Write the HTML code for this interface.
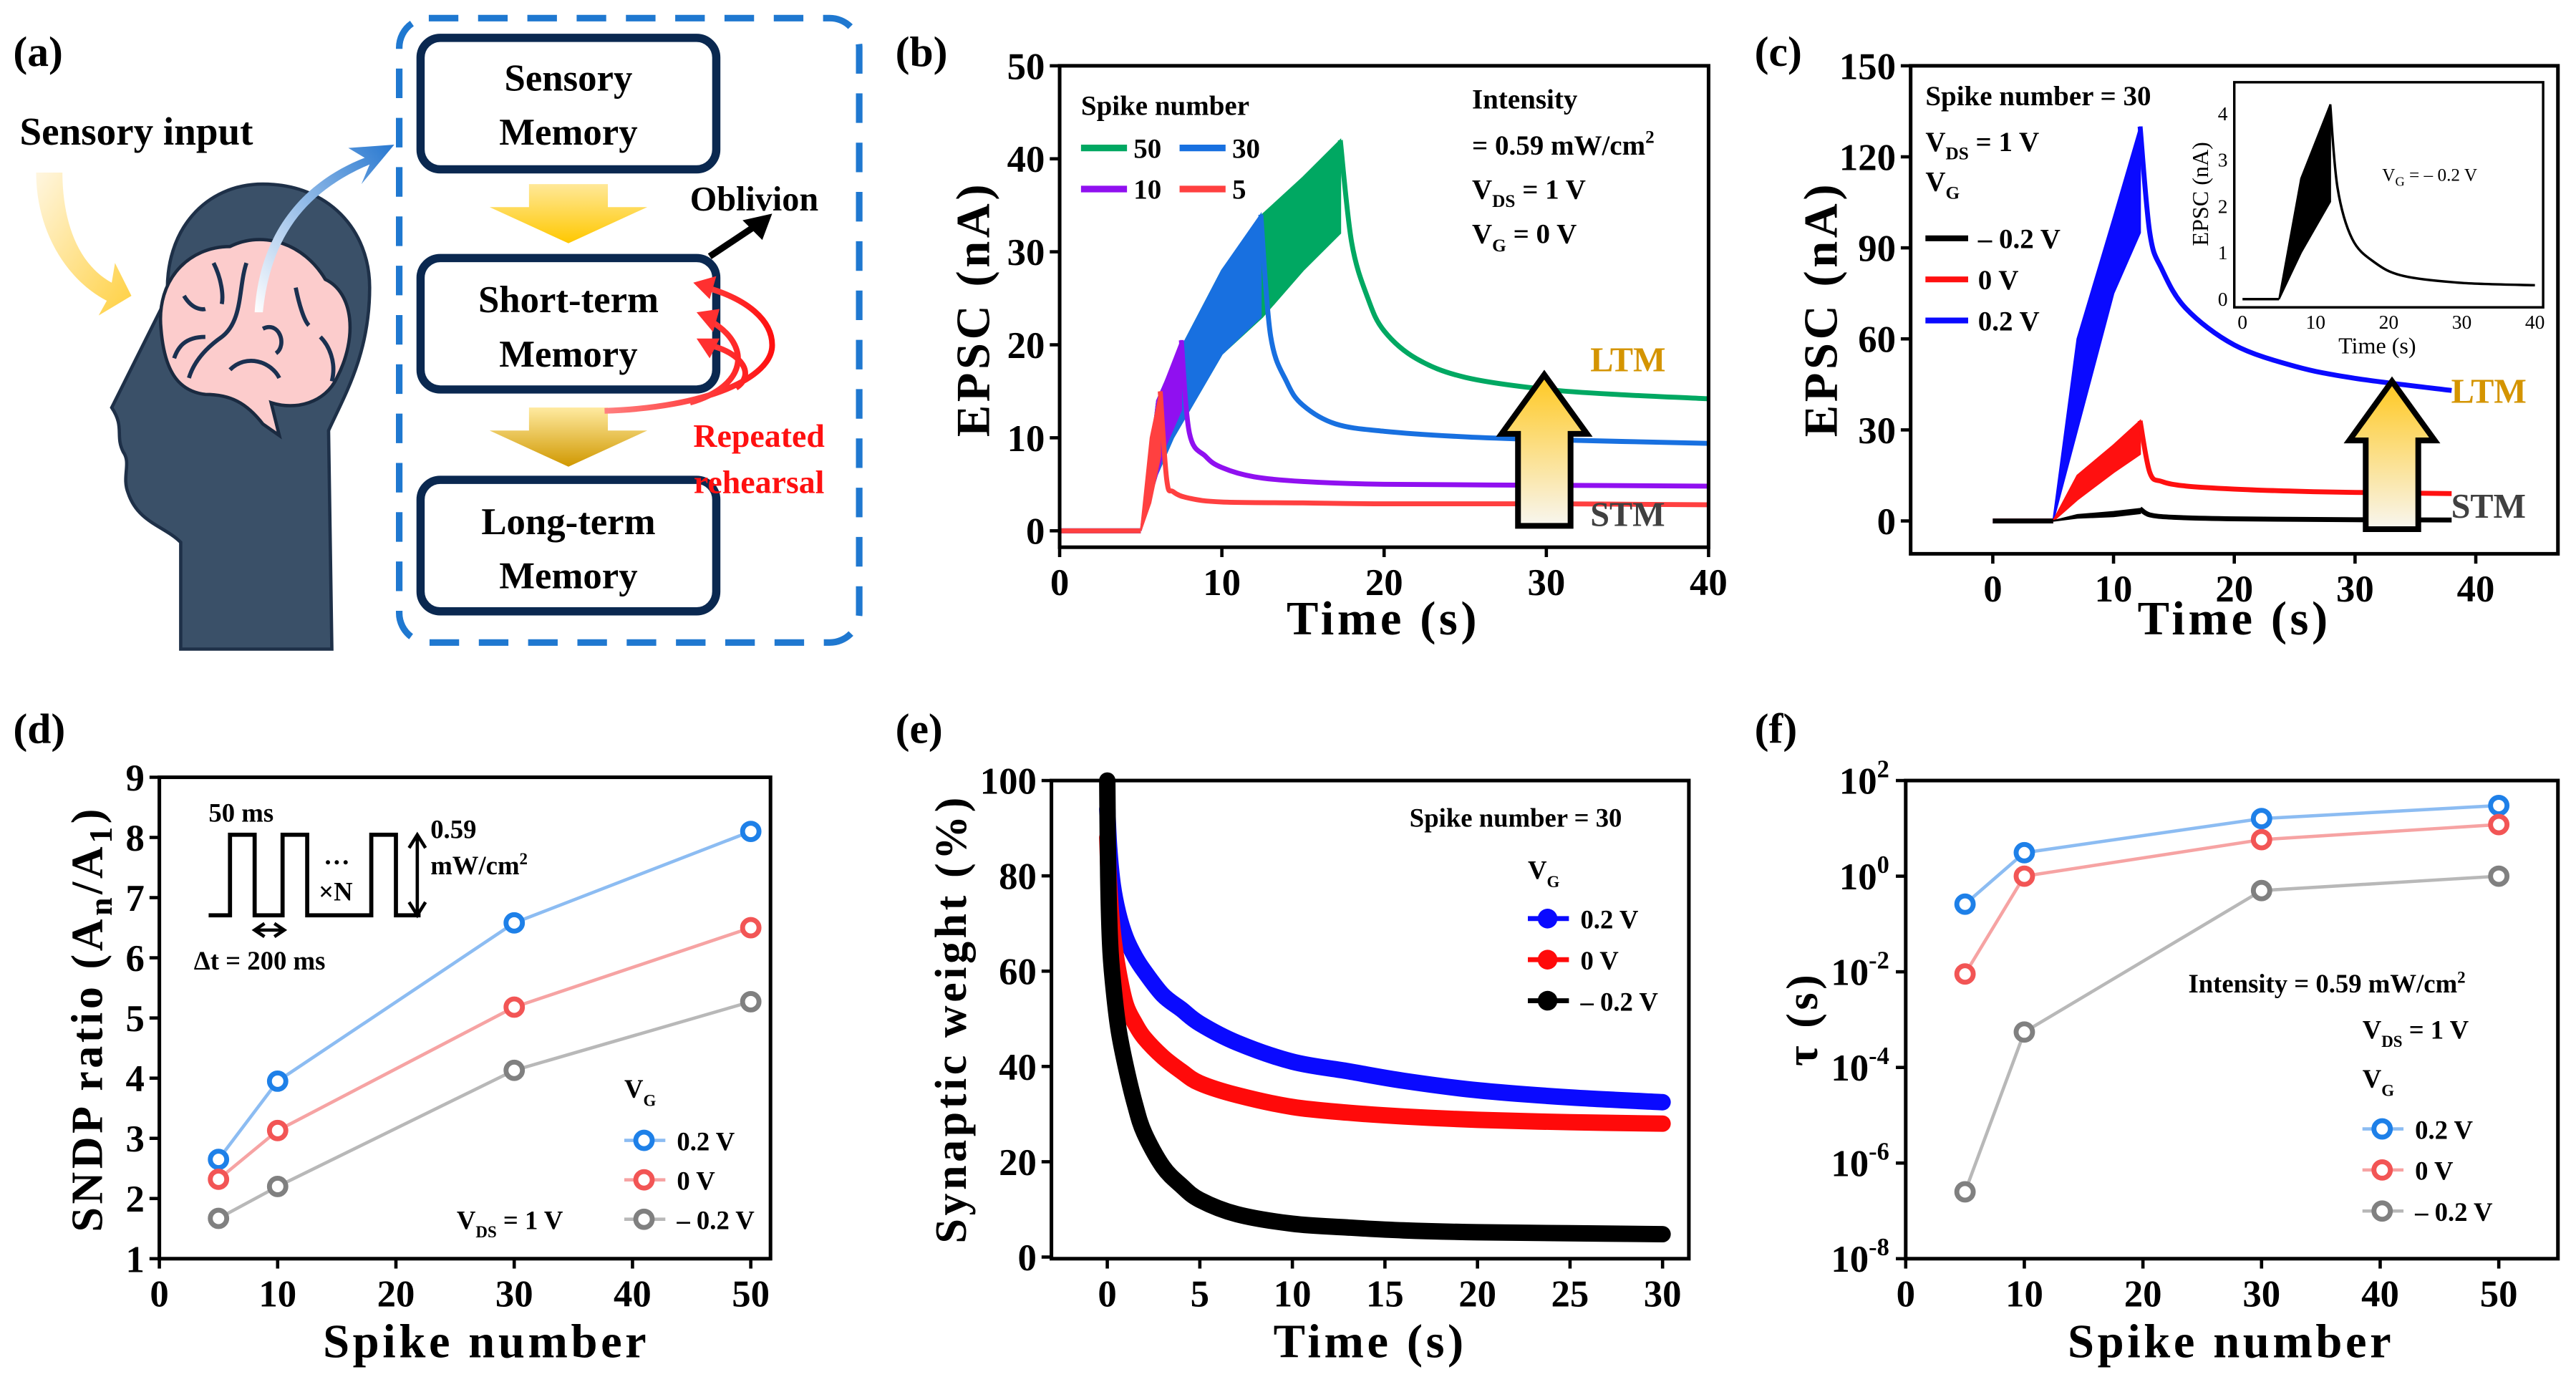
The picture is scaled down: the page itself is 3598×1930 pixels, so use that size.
<!DOCTYPE html>
<html><head><meta charset="utf-8"><style>
html,body{margin:0;padding:0;background:#fff;}
svg{display:block;font-family:"Liberation Serif",serif;font-weight:bold;}
</style></head><body>
<svg id="root" width="3598" height="1930" viewBox="0 0 1568 841" xmlns="http://www.w3.org/2000/svg">
<defs>
<linearGradient id="gy" x1="0" y1="0" x2="0" y2="1"><stop offset="0" stop-color="#ffe898"/><stop offset="1" stop-color="#ffc800"/></linearGradient>
<linearGradient id="gy2" x1="0" y1="0" x2="0" y2="1"><stop offset="0" stop-color="#ffeaa0"/><stop offset="1" stop-color="#d09800"/></linearGradient>
<linearGradient id="gup" x1="0" y1="1" x2="0" y2="0"><stop offset="0" stop-color="#f8f6f0"/><stop offset="1" stop-color="#ffc820"/></linearGradient>
<linearGradient id="gin" x1="0" y1="0" x2="1" y2="1"><stop offset="0" stop-color="#fff6e0"/><stop offset="1" stop-color="#ffd040"/></linearGradient>
<linearGradient id="gbl" x1="0" y1="1" x2="1" y2="0"><stop offset="0" stop-color="#ffffff"/><stop offset="1" stop-color="#2878d0"/></linearGradient>
<linearGradient id="grd" x1="0" y1="0" x2="1" y2="0"><stop offset="0" stop-color="#ff8080"/><stop offset="1" stop-color="#ff1010"/></linearGradient>
</defs>

<!-- Panel (a) -->
<g>
<text x="8" y="40" font-size="26">(a)</text>
<text x="12" y="88" font-size="24">Sensory input</text>
<path d="M22,105 C22,140 40,170 65,183 L60,192 L80,180 L70,160 L68,172 C46,160 38,132 38,105 Z" fill="url(#gin)"/>
<path d="M110,395 L110,330 C100,320 84,318 78,300 C74,290 80,282 75,275 C70,265 76,260 68,248 L102,180 C100,140 125,112 160,112 C200,112 225,140 225,175 C225,215 210,240 200,262 L202,395 Z" fill="#3a5068" stroke="#1e3048" stroke-width="2"/>
<path d="M98,200 C95,170 115,150 140,150 C160,140 185,148 198,170 C215,178 218,205 205,230 C198,245 180,250 165,245 L170,265 L160,258 C150,245 140,240 125,240 C108,238 100,225 98,200 Z" fill="#fccccc" stroke="#1a2a40" stroke-width="2"/>
<path d="M112,180 C118,190 125,188 125,188 M130,160 C135,170 136,180 135,185 M150,160 C145,175 148,195 135,205 C125,212 118,220 115,230 M160,200 C170,195 175,210 168,215 M180,175 C182,185 185,195 188,198 M140,225 C150,215 165,220 170,230 M195,205 C200,210 205,220 202,232 M125,205 C112,205 108,212 106,218" fill="none" stroke="#1a3050" stroke-width="2.5"/>
<path d="M160,190 C165,140 190,115 225,100 L220,112 L240,88 L212,90 L222,96 C186,110 158,140 155,190 Z" fill="url(#gbl)"/>
<rect x="243" y="11" width="280" height="380" rx="18" fill="none" stroke="#1f78d0" stroke-width="4" stroke-dasharray="18,12"/>
<rect x="256" y="23" width="180" height="80" rx="12" fill="#fff" stroke="#0a2850" stroke-width="5"/>
<text x="346" y="55" font-size="23" text-anchor="middle">Sensory</text>
<text x="346" y="88" font-size="23" text-anchor="middle">Memory</text>
<path d="M322,112 L370,112 L370,126 L394,126 L346,148 L298,126 L322,126 Z" fill="url(#gy)"/>
<rect x="256" y="157" width="180" height="80" rx="12" fill="#fff" stroke="#0a2850" stroke-width="5"/>
<text x="346" y="190" font-size="23" text-anchor="middle">Short-term</text>
<text x="346" y="223" font-size="23" text-anchor="middle">Memory</text>
<path d="M322,248 L370,248 L370,262 L394,262 L346,284 L298,262 L322,262 Z" fill="url(#gy2)"/>
<rect x="256" y="292" width="180" height="80" rx="12" fill="#fff" stroke="#0a2850" stroke-width="5"/>
<text x="346" y="325" font-size="23" text-anchor="middle">Long-term</text>
<text x="346" y="358" font-size="23" text-anchor="middle">Memory</text>
<line x1="432" y1="156" x2="462" y2="136" stroke="#000" stroke-width="4"/>
<path d="M470,130 L452,134 L464,146 Z" fill="#000"/>
<text x="420" y="128" font-size="21">Oblivion</text>
<path d="M368,250 C430,248 470,230 470,210 C470,195 455,182 430,175 M420,245 C455,235 458,210 432,195 M448,236 C460,228 452,215 432,210" fill="none" stroke="url(#grd)" stroke-width="3.5"/>
<path d="M422,172 L436,168 L432,182 Z M424,190 L438,188 L434,202 Z M424,206 L438,206 L432,218 Z" fill="#ff3030"/>
<text x="462" y="272" font-size="20" fill="#ff1010" text-anchor="middle">Repeated</text>
<text x="462" y="300" font-size="20" fill="#ff1010" text-anchor="middle">rehearsal</text>
</g>

<g id="pb"></g>
<g id="pc"></g>
<g id="pd"></g>
<g id="pe"></g>
<g id="pf"></g>
</svg>
<script>
// ---------- data ----------
// (b)
const bSeries = ['50','30','10','5'];
const bColors = ['#00a862','#1870e0','#9010f0','#ff4040'];
const bSpikeT = [[5,6,7,10,12.5,15,17.3],[5,6,7,10,12.4],[5,6,6.5,7.5],[5,5.6,6.2]];
const bUpper = [[0,14,18,28,34,38,42],[0,14,18,28,34],[0,14,16,20.5],[0,10,15]];
const bLower = [[0,6,10,19,23,28,32],[0,6,10,19,23],[0,6,9,13],[0,3,8]];
const bDecayT = [[18,19,20,22,25,30,35,40],[13,14,15,17,20,25,30,40],[8,9,10,12,15,20,30,40],[6.6,7,8,10,15,20,30,40]];
const bDecayV = [[31,25,21.5,18.5,16.5,15.2,14.6,14.2],[21,16,13.5,11.5,10.7,10.1,9.8,9.4],[10.5,8,6.8,5.8,5.3,5,4.9,4.8],[5.5,4.2,3.5,3.1,3,2.9,2.9,2.8]];
const bXTicks = [0,10,20,30,40];
const bYTicks = [0,10,20,30,40,50];
// (c)
const cSeries = ['– 0.2 V','0 V','0.2 V'];
const cColors = ['#000000','#ff1010','#0a0aff'];
const cSpikeT = [[5,7,10,12.2],[5,7,10,12.2],[5,7,10,12.2]];
const cUpper = [[0,2,3,4],[0,15,25,33],[0,60,100,130]];
const cLower = [[0,1,1.5,2.5],[0,7,16,22],[0,30,75,95]];
const cDecayT = [[13,15,20,30,38],[13,14,16,20,25,30,38],[13,14,16,20,25,30,38]];
const cDecayV = [[2,1.2,0.7,0.4,0.3],[16,13,11.5,10.5,9.8,9.4,9],[95,83,70,58,51,47,43]];
const cXTicks = [0,10,20,30,40];
const cYTicks = [0,30,60,90,120,150];
const insSpikeT = [5,8,12];
const insUpper = [0,2.6,4.2];
const insLower = [0,1,2.1];
const insDecayT = [13,15,18,22,30,40];
const insDecayV = [2.4,1.3,0.8,0.5,0.35,0.3];
const insXTicks = [0,10,20,30,40];
const insYTicks = [0,1,2,3,4];
// (d)
const dX = [5,10,30,50];
const dSeries = ['0.2 V','0 V','– 0.2 V'];
const dVals = [[2.65,3.95,6.58,8.1],[2.32,3.13,5.18,6.5],[1.67,2.2,4.13,5.27]];
const dXTicks = [0,10,20,30,40,50];
const dYTicks = [1,2,3,4,5,6,7,8,9];
// (e)
const eSeries = ['0.2 V','0 V','– 0.2 V'];
const eT = [[0,0.1,0.3,0.6,1,1.5,2,3,4,5,7,10,13,16,20,25,30],[0,0.1,0.3,0.6,1,1.5,2,3,4,5,7,10,13,16,20,25,30],[0,0.05,0.15,0.3,0.6,1,1.5,2,3,4,5,7,10,13,16,20,25,30]];
const eV = [[94,86,78,72,67,63,60,55,52,49,45,41,39,37,35,33.5,32.5],[88,78,68,60,53,49,46,42,39,36.5,34,31.5,30.3,29.5,28.8,28.3,28],[100,80,66,58,48,40,32,26,19,15,12,9,7,6.2,5.6,5.2,5,4.8]];
const eXTicks = [0,5,10,15,20,25,30];
const eYTicks = [0,20,40,60,80,100];
// (f)
const fX = [5,10,30,50];
const fSeries = ['0.2 V','0 V','– 0.2 V'];
const fVals = [[0.26,3.1,16,30],[0.009,1,5.8,12],[2.5e-7,5.5e-4,0.5,1]];
const fXTicks = [0,10,20,30,40,50];
const fYExp = [-8,-6,-4,-2,0,2];

// ---------- helpers ----------
const NS = 'http://www.w3.org/2000/svg';
function mk(tag, attrs, parent, txt){
  const e = document.createElementNS(NS, tag);
  for (const k in attrs) e.setAttribute(k, attrs[k]);
  if (txt !== undefined) e.textContent = txt;
  parent.appendChild(e);
  return e;
}
function lin(d0,d1,r0,r1){ return v => r0 + (v-d0)*(r1-r0)/(d1-d0); }
function drawAxes(g, box, sx, sy, xt, yt, fsz, yFmt){
  const fr = mk('rect',{x:box.x0,y:box.y0,width:box.x1-box.x0,height:box.y1-box.y0,fill:'none',stroke:'#000','stroke-width':2.2},g);
  
  
  xt.forEach(v=>{
    const x = sx(v);
    const t = mk('line',{x1:x,y1:box.y1,x2:x,y2:box.y1+6,stroke:'#000','stroke-width':2},g);
    
    
    const l = mk('text',{x:x,y:box.y1+6+fsz,'font-size':fsz,'text-anchor':'middle'},g,String(v));
    
    
  });
  yt.forEach(v=>{
    const y = sy(v);
    const t = mk('line',{x1:box.x0-6,y1:y,x2:box.x0,y2:y,stroke:'#000','stroke-width':2},g);
    
    
    if (yFmt) { yFmt(v,y); return; }
    const l = mk('text',{x:box.x0-9,y:y+fsz*0.35,'font-size':fsz,'text-anchor':'end'},g,String(v));
    
    
  });
}
function axisTitle(g, x, y, txt, rot, fs, name){
  const t = mk('text',{x:x,y:y,'font-size':fs,'text-anchor':'middle','letter-spacing':2,transform: rot?`rotate(-90 ${x} ${y})`:''},g);
  
  
  t.innerHTML = txt;
  return t;
}
function spikeShape(g, sx, sy, T, U, L, DT, DV, color, name, sw){
  let pts = [[sx(0),sy(0)],[sx(T[0]),sy(0)]];
  let up = T.map((t,i)=>[sx(t),sy(U[i])]);
  let lo = T.map((t,i)=>[sx(t),sy(L[i])]).reverse();
  const poly = mk('polygon',{points:up.concat(lo).map(p=>p.join(',')).join(' '),fill:color,stroke:color,'stroke-width':1},g);
  
  
  let dec = [[sx(T[T.length-1]),sy(U[U.length-1])]].concat(DT.map((t,i)=>[sx(t),sy(DV[i])]));
  const d1 = mk('polyline',{points:pts.map(p=>p.join(',')).join(' '),fill:'none',stroke:color,'stroke-width':sw},g);
  
  
  const d2 = mk('path',{d:smooth(dec),fill:'none',stroke:color,'stroke-width':sw},g);
  
  
}
function smooth(p){
  let d = 'M'+p[0][0]+','+p[0][1];
  for (let i=1;i<p.length;i++){
    const p0=p[Math.max(0,i-2)], p1=p[i-1], p2=p[i], p3=p[Math.min(p.length-1,i+1)];
    const c1=[p1[0]+(p2[0]-p0[0])/6, p1[1]+(p2[1]-p0[1])/6];
    const c2=[p2[0]-(p3[0]-p1[0])/6, p2[1]-(p3[1]-p1[1])/6];
    d+=` C${c1[0]},${c1[1]} ${c2[0]},${c2[1]} ${p2[0]},${p2[1]}`;
  }
  return d;
}
function upArrow(g, x, y0, y1, name){
  const w=16, hw=26, hh=36;
  const p = `${x-w},${y1} ${x+w},${y1} ${x+w},${y0+hh} ${x+hw},${y0+hh} ${x},${y0} ${x-hw},${y0+hh} ${x-w},${y0+hh}`;
  const a = mk('polygon',{points:p,fill:'url(#gup)',stroke:'#000','stroke-width':3.5},g);
  
  
}
function lbl(g,x,y,fs,txt,name,extra){
  const t = mk('text',Object.assign({x:x,y:y,'font-size':fs},extra||{}),g);
  t.innerHTML = txt;
  
  
  return t;
}

// ---------- (b) ----------
(function(){
  const g = document.getElementById('pb');
  const box={x0:645,x1:1040,y0:40,y1:333};
  const sx=lin(0,40,645,1040), sy=lin(0,50,323,40);
  lbl(g,545,40,26,'(b)','panel-label-b');
  for (let i=0;i<bSeries.length;i++) spikeShape(g,sx,sy,bSpikeT[i],bUpper[i],bLower[i],bDecayT[i],bDecayV[i],bColors[i],'series-'+bSeries[i],3);
  upArrow(g,940,228,320,'ltm-arrow');
  lbl(g,968,226,21,'LTM','ltm-label',{fill:'#d49400'});
  lbl(g,968,320,21,'STM','stm-label',{fill:'#404040'});
  drawAxes(g,box,sx,sy,bXTicks,bYTicks,23);
  axisTitle(g,842,386,'Time (s)',false,29,'x-axis-title');
  axisTitle(g,602,188,'EPSC (nA)',true,29,'y-axis-title');
  lbl(g,658,70,17,'Spike number','legend-title');
  const lx=[658,718], ly=[90,115];
  for (let i=0;i<4;i++){
    const x=lx[i%2], y=ly[Math.floor(i/2)];
    const l=mk('line',{x1:x,y1:y,x2:x+28,y2:y,stroke:bColors[i],'stroke-width':4},g);
    
    
    lbl(g,x+32,y+6,17,bSeries[i],'legend-label-'+bSeries[i]);
  }
  lbl(g,896,66,17,'Intensity','intensity-note');
  lbl(g,896,94,17,'= 0.59 mW/cm<tspan dy="-7" font-size="11">2</tspan>','intensity-value');
  lbl(g,896,121,17,'V<tspan dy="5" font-size="11">DS</tspan><tspan dy="-5"> = 1 V</tspan>','vds-note');
  lbl(g,896,148,17,'V<tspan dy="5" font-size="11">G</tspan><tspan dy="-5"> = 0 V</tspan>','vg-note');
})();

// ---------- (c) ----------
(function(){
  const g = document.getElementById('pc');
  const box={x0:1163,x1:1557,y0:40,y1:337};
  const sx=lin(0,40,1213,1507), sy=lin(0,150,317,40);
  lbl(g,1068,40,26,'(c)','panel-label-c');
  for (let i=cSeries.length-1;i>=0;i--) spikeShape(g,sx,sy,cSpikeT[i],cUpper[i],cLower[i],cDecayT[i],cDecayV[i],cColors[i],'series-vg-'+i,3);
  upArrow(g,1456,232,322,'ltm-arrow');
  lbl(g,1492,245,21,'LTM','ltm-label',{fill:'#d49400'});
  lbl(g,1492,315,21,'STM','stm-label',{fill:'#404040'});
  drawAxes(g,box,sx,sy,cXTicks,cYTicks,23);
  axisTitle(g,1360,386,'Time (s)',false,29,'x-axis-title');
  axisTitle(g,1118,188,'EPSC (nA)',true,29,'y-axis-title');
  lbl(g,1172,64,17,'Spike number = 30','spike-number-note');
  lbl(g,1172,92,17,'V<tspan dy="5" font-size="11">DS</tspan><tspan dy="-5"> = 1 V</tspan>','vds-note');
  lbl(g,1172,116,17,'V<tspan dy="5" font-size="11">G</tspan>','vg-legend-title');
  for (let i=0;i<3;i++){
    const y=145+i*25;
    const l=mk('line',{x1:1172,y1:y,x2:1198,y2:y,stroke:cColors[i],'stroke-width':3.5},g);
    
    
    lbl(g,1204,y+6,17,cSeries[i],'legend-label-'+i);
  }
  const ib={x0:1360,x1:1548,y0:50,y1:187};
  const ix=lin(0,40,1365,1543), iy=lin(0,4.5,182,55);
  const bg=mk('rect',{x:ib.x0,y:ib.y0,width:ib.x1-ib.x0,height:ib.y1-ib.y0,fill:'#fff'},g);
  
  
  const ig=mk('g',{},g);
  
  
  spikeShape(ig,ix,iy,insSpikeT,insUpper,insLower,insDecayT,insDecayV,'#000','inset-series',1.5);
  const f=mk('rect',{x:ib.x0,y:ib.y0,width:ib.x1-ib.x0,height:ib.y1-ib.y0,fill:'none',stroke:'#000','stroke-width':1.5},ig);
  
  
  insXTicks.forEach(v=>{ lbl(ig,ix(v),ib.y1+13,12,String(v),'inset-x-tick-label',{'text-anchor':'middle','font-weight':'normal'}); });
  insYTicks.forEach(v=>{ lbl(ig,ib.x0-4,iy(v)+4,12,String(v),'inset-y-tick-label',{'text-anchor':'end','font-weight':'normal'}); });
  lbl(ig,1447,215,14,'Time (s)','inset-x-title',{'text-anchor':'middle','font-weight':'normal'});
  lbl(ig,1344,118,14,'EPSC (nA)','inset-y-title',{'text-anchor':'middle','font-weight':'normal',transform:'rotate(-90 1344 118)'});
  lbl(ig,1450,110,11,'V<tspan dy="3" font-size="8">G</tspan><tspan dy="-3"> = – 0.2 V</tspan>','inset-vg-note',{'font-weight':'normal'});
})();

// ---------- (d) ----------
const dMark=['#1e80e8','#f25555','#808080'], dLine=['#8cbcf2','#f6a3a3','#b8b8b8'];
(function(){
  const g=document.getElementById('pd');
  const box={x0:97,x1:469,y0:473,y1:766};
  const sx=lin(0,50,97,457), sy=lin(1,9,766,473);
  lbl(g,8,452,26,'(d)','panel-label-d');
  for (let i=0;i<dSeries.length;i++){
    const pts=dX.map((x,j)=>sx(x)+','+sy(dVals[i][j])).join(' ');
    const l=mk('polyline',{points:pts,fill:'none',stroke:dLine[i],'stroke-width':2},g);
    
    
    dX.forEach((x,j)=>{
      const c=mk('circle',{cx:sx(x),cy:sy(dVals[i][j]),r:5,fill:'#fff',stroke:dMark[i],'stroke-width':3},g);
      
      
    });
  }
  drawAxes(g,box,sx,sy,dXTicks,dYTicks,23);
  axisTitle(g,296,826,'Spike number',false,29,'x-axis-title');
  axisTitle(g,62,620,'SNDP ratio (A<tspan dy="6" font-size="20">n</tspan><tspan dy="-6">/A</tspan><tspan dy="6" font-size="20">1</tspan><tspan dy="-6">)</tspan>',true,27,'y-axis-title');
  const pw=mk('polyline',{points:'127,557 140,557 140,508 155,508 155,557 172,557 172,508 187,508 187,557 226,557 226,508 241,508 241,557 256,557',fill:'none',stroke:'#000','stroke-width':2.5},g);
  
  
  lbl(g,127,500,16,'50 ms','pulse-width-note');
  lbl(g,197,526,16,'…','ellipsis');
  lbl(g,194,548,16,'×N','repeat-note');
  lbl(g,262,510,16,'0.59','intensity-note');
  lbl(g,262,532,16,'mW/cm<tspan dy="-6" font-size="10">2</tspan>','intensity-unit');
  const a1=mk('path',{d:'M254,510 L254,555 M249,516 L254,508 L259,516 M249,549 L254,557 L259,549',fill:'none',stroke:'#000','stroke-width':2},g);
  
  
  const a2=mk('path',{d:'M156,566 L172,566 M161,562 L155,566 L161,570 M167,562 L173,566 L167,570',fill:'none',stroke:'#000','stroke-width':2},g);
  
  
  lbl(g,118,590,16,'Δt = 200 ms','interval-note');
  lbl(g,380,668,16,'V<tspan dy="5" font-size="10">G</tspan>','legend-title');
  for (let i=0;i<3;i++){
    const y=694+i*24;
    const l=mk('line',{x1:380,y1:y,x2:405,y2:y,stroke:dLine[i],'stroke-width':2},g);
    
    
    const c=mk('circle',{cx:392,cy:y,r:5,fill:'#fff',stroke:dMark[i],'stroke-width':3},g);
    
    
    lbl(g,412,y+6,16,dSeries[i],'legend-label-'+i);
  }
  lbl(g,278,748,16,'V<tspan dy="5" font-size="10">DS</tspan><tspan dy="-5"> = 1 V</tspan>','vds-note');
})();

// ---------- (e) ----------
const eCol=['#0a0aff','#ff0a0a','#000000'];
(function(){
  const g=document.getElementById('pe');
  const box={x0:640,x1:1028,y0:475,y1:766};
  const sx=lin(0,30,674,1012), sy=lin(0,100,765,475);
  lbl(g,545,452,26,'(e)','panel-label-e');
  for (let i=0;i<eSeries.length;i++){
    const p=eT[i].map((t,j)=>[sx(t),sy(eV[i][j])]);
    const l=mk('path',{d:smooth(p),fill:'none',stroke:eCol[i],'stroke-width':10,'stroke-linecap':'round'},g);
    
    
    eT[i].forEach((t,j)=>{
      const c=mk('circle',{cx:sx(t),cy:sy(eV[i][j]),r:4.5,fill:eCol[i]},g);
      
      
    });
  }
  drawAxes(g,box,sx,sy,eXTicks,eYTicks,23);
  axisTitle(g,834,826,'Time (s)',false,29,'x-axis-title');
  axisTitle(g,588,620,'Synaptic weight (%)',true,27,'y-axis-title');
  lbl(g,858,503,16,'Spike number = 30','spike-number-note');
  lbl(g,930,535,16,'V<tspan dy="5" font-size="10">G</tspan>','legend-title');
  for (let i=0;i<3;i++){
    const y=559+i*25;
    const l=mk('line',{x1:930,y1:y,x2:955,y2:y,stroke:eCol[i],'stroke-width':3},g);
    
    
    const c=mk('circle',{cx:942,cy:y,r:6,fill:eCol[i]},g);
    
    
    lbl(g,962,y+6,16,eSeries[i],'legend-label-'+i);
  }
})();

// ---------- (f) ----------
(function(){
  const g=document.getElementById('pf');
  const box={x0:1160,x1:1557,y0:475,y1:766};
  const sx=lin(0,50,1160,1521);
  const syl=lin(-8,2,766,475), sy=v=>syl(Math.log10(v));
  lbl(g,1068,452,26,'(f)','panel-label-f');
  for (let i=0;i<fSeries.length;i++){
    const pts=fX.map((x,j)=>sx(x)+','+sy(fVals[i][j])).join(' ');
    const l=mk('polyline',{points:pts,fill:'none',stroke:dLine[i],'stroke-width':2},g);
    
    
    fX.forEach((x,j)=>{
      const c=mk('circle',{cx:sx(x),cy:sy(fVals[i][j]),r:5,fill:'#fff',stroke:dMark[i],'stroke-width':3},g);
      
      
    });
  }
  drawAxes(g,box,sx,v=>syl(v),fXTicks,fYExp,23,(v,y)=>{
    lbl(g,1150,y+8,23,'10<tspan dy="-10" font-size="15">'+v+'</tspan>','y-tick-label',{'text-anchor':'end'});
  });
  axisTitle(g,1358,826,'Spike number',false,29,'x-axis-title');
  axisTitle(g,1106,620,'τ (s)',true,27,'y-axis-title');
  lbl(g,1332,604,16,'Intensity = 0.59 mW/cm<tspan dy="-6" font-size="10">2</tspan>','intensity-note');
  lbl(g,1438,632,16,'V<tspan dy="5" font-size="10">DS</tspan><tspan dy="-5"> = 1 V</tspan>','vds-note');
  lbl(g,1438,662,16,'V<tspan dy="5" font-size="10">G</tspan>','legend-title');
  for (let i=0;i<3;i++){
    const y=687+i*25;
    const l=mk('line',{x1:1438,y1:y,x2:1463,y2:y,stroke:dLine[i],'stroke-width':2},g);
    
    
    const c=mk('circle',{cx:1450,cy:y,r:5,fill:'#fff',stroke:dMark[i],'stroke-width':3},g);
    
    
    lbl(g,1470,y+6,16,fSeries[i],'legend-label-'+i);
  }
})();
</script>
</body></html>
